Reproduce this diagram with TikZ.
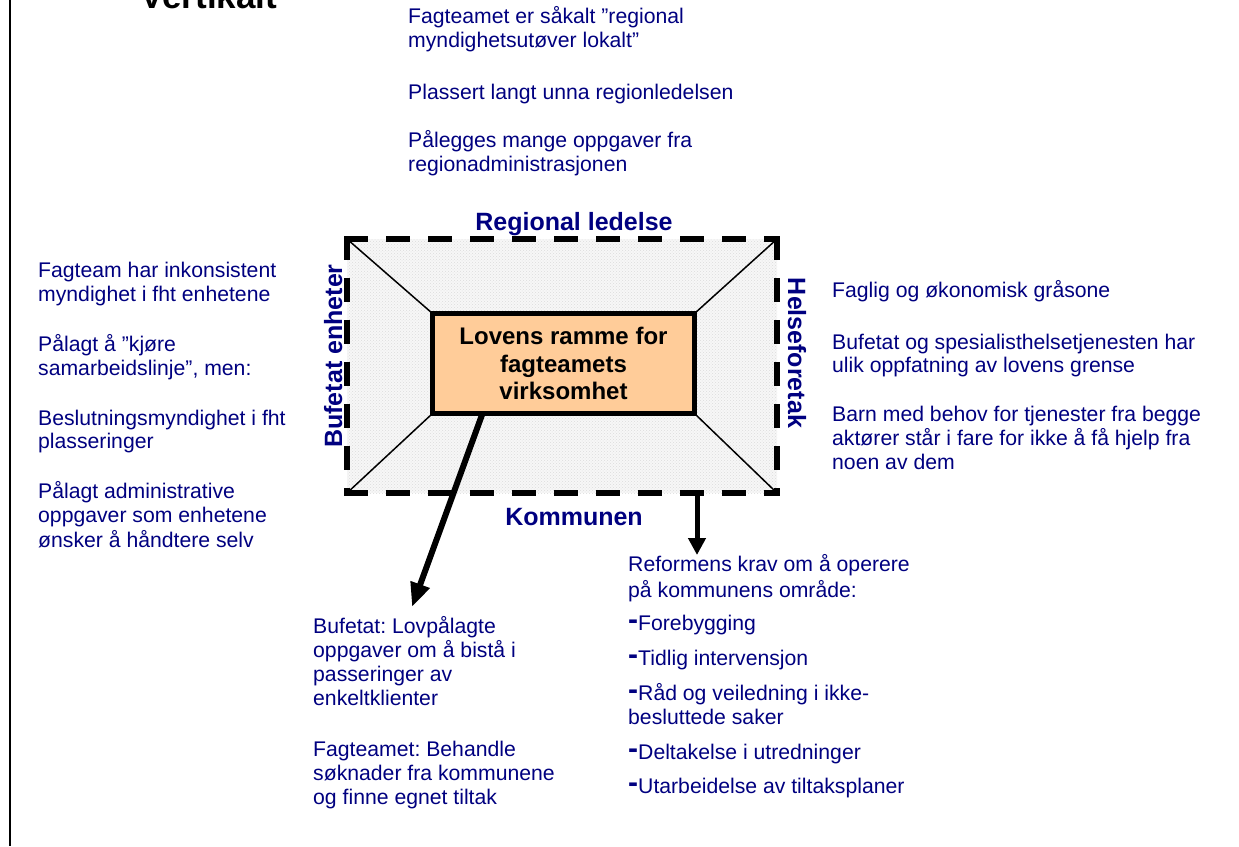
\documentclass[tikz,border=0pt]{standalone}
\usepackage{fontspec}
\setmainfont{Liberation Sans}
\usetikzlibrary{arrows.meta,calc,patterns}
\definecolor{navy}{RGB}{0,0,128}
\definecolor{peach}{RGB}{255,204,153}
\newcommand\dashbul{\raisebox{1pt}{\fontsize{30}{30}\selectfont\bfseries -}}
\frenchspacing
\begin{document}
\begin{tikzpicture}[x=1pt,y=-1pt,
  txt/.style={font=\fontsize{21.2}{24}\selectfont, text=navy, anchor=base west, inner sep=0pt},
  lbl/.style={font=\fontsize{25}{25}\selectfont\bfseries, text=navy, anchor=base, inner sep=0pt},
  framebox/.style={draw=none, fill=black!3, minimum width=430pt, minimum height=254pt, inner sep=0pt, outer sep=0pt},
  lawbox/.style={draw=black, line width=5pt, fill=peach, minimum width=262pt, minimum height=100pt, outer sep=0pt, inner sep=0pt, align=center, font=\fontsize{24}{27.5}\selectfont\bfseries},
  dashedge/.style={line width=6pt, dash pattern=on 18pt off 24pt, line cap=rect},
  diag/.style={line width=1.5pt},
  bigarrow/.style={line width=6pt, -{Triangle[length=24pt,width=19pt]}},
  downarrow/.style={line width=5pt, -{Triangle[length=17pt,width=17pt]}}
]
\useasboundingbox (0,0) rectangle (1239,846);
\fill[white] (0,0) rectangle (1239,846);
\draw[line width=2.5pt] (10,0) -- (10,846);
\node[font=\fontsize{35}{35}\selectfont\bfseries, anchor=base, inner sep=0pt] (vt) at (209,8) {Vertikalt};

% frame
\node[framebox] (frame) at (562,366) {};
\fill[pattern=crosshatch dots, pattern color=black!14] (frame.north west) rectangle (frame.south east);
\node[lawbox] (law) at (563.5,363.5) {Lovens ramme for\\fagteamets\\virksomhet};
\draw[diag] (frame.north west) -- (law.north west);
\draw[diag] (frame.north east) -- (law.north east);
\draw[diag] (frame.south west) -- (law.south west);
\draw[diag] (frame.south east) -- (law.south east);
\draw[dashedge] (frame.north west) -- (frame.north east);
\draw[dashedge] (frame.north east) -- (frame.south east);
\draw[dashedge] (frame.south west) -- (frame.south east);
\draw[dashedge] (frame.north west) -- (frame.south west);

% labels
\node[lbl] (rl) at (574,230) {Regional ledelse};
\node[lbl] (km) at (574,525) {Kommunen};
\node[lbl, rotate=90] (be) at (342,356) {Bufetat enheter};
\node[lbl, rotate=-90] (hf) at (788,353) {Helseforetak};

% arrows
\coordinate (tipA) at (412,607);
\coordinate (tipB) at (697,555);
\draw[bigarrow] ($(law.south west)+(50,0)$) -- (tipA);
\draw[downarrow] ($(frame.south west)+(350,0)$) -- (tipB);

% top block
\node[txt] (t1) at (408,23.5) {Fagteamet er såkalt ”regional};
\node[txt] (t2) at (408,47.5) {myndighetsutøver lokalt”};
\node[txt] (t3) at (408,99) {Plassert langt unna regionledelsen};
\node[txt] (t4) at (408,147) {Pålegges mange oppgaver fra};
\node[txt] (t5) at (408,171) {regionadministrasjonen};

% left block
\node[txt] (l1) at (38,277.5) {Fagteam har inkonsistent};
\node[txt] (l2) at (38,301.7) {myndighet i fht enhetene};
\node[txt] (l3) at (38,351.7) {Pålagt å ”kjøre};
\node[txt] (l4) at (38,375.5) {samarbeidslinje”, men:};
\node[txt] (l5) at (38,425) {Beslutningsmyndighet i fht};
\node[txt] (l6) at (38,448.5) {plasseringer};
\node[txt] (l7) at (38,498) {Pålagt administrative};
\node[txt] (l8) at (38,522.5) {oppgaver som enhetene};
\node[txt] (l9) at (38,547) {ønsker å håndtere selv};

% right block
\node[txt] (h1) at (832,297.5) {Faglig og økonomisk gråsone};
\node[txt] (h2) at (832,349) {Bufetat og spesialisthelsetjenesten har};
\node[txt] (h3) at (832,372) {ulik oppfatning av lovens grense};
\node[txt] (h4) at (832,421.5) {Barn med behov for tjenester fra begge};
\node[txt] (h5) at (832,445.5) {aktører står i fare for ikke å få hjelp fra};
\node[txt] (h6) at (832,469.5) {noen av dem};

% bottom middle block
\node[txt] (b1) at (313,633) {Bufetat: Lovpålagte};
\node[txt] (b2) at (313,657) {oppgaver om å bistå i};
\node[txt] (b3) at (313,681) {passeringer av};
\node[txt] (b4) at (313,705.5) {enkeltklienter};
\node[txt] (b5) at (313,756) {Fagteamet: Behandle};
\node[txt] (b6) at (313,780) {søknader fra kommunene};
\node[txt] (b7) at (313,804) {og finne egnet tiltak};

% bottom right block
\node[txt] (k1) at (628,571.5) {Reformens krav om å operere};
\node[txt] (k2) at (628,597) {på kommunens område:};
\node[txt] (k3) at (628,630.7) {\dashbul Forebygging};
\node[txt] (k4) at (628,665) {\dashbul Tidlig intervensjon};
\node[txt] (k5) at (628,700) {\dashbul Råd og veiledning i ikke-};
\node[txt] (k6) at (628,724) {besluttede saker};
\node[txt] (k7) at (628,759) {\dashbul Deltakelse i utredninger};
\node[txt] (k8) at (628,793) {\dashbul Utarbeidelse av tiltaksplaner};
\end{tikzpicture}
\end{document}
